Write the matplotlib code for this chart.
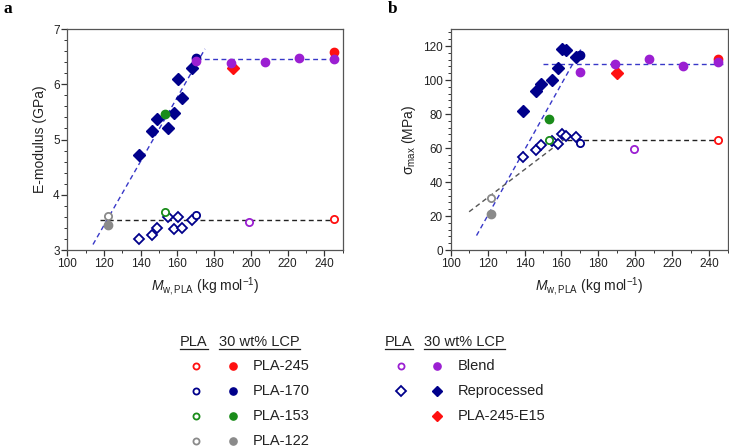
import matplotlib
matplotlib.use("Agg")
import matplotlib.pyplot as plt
from matplotlib.lines import Line2D
from matplotlib.ticker import MultipleLocator

plt.rcParams['font.family'] = ['Liberation Sans', 'DejaVu Sans']
plt.rcParams['mathtext.fontset'] = 'custom'
plt.rcParams['mathtext.rm'] = 'Liberation Sans'
plt.rcParams['mathtext.it'] = 'Liberation Sans:italic'
plt.rcParams['mathtext.bf'] = 'Liberation Sans:bold'

# ---------------- data ----------------
# Panel a: E-modulus (GPa)
pla245_x = [245]
pla245_open_a = [3.57]
pla245_fill_a = [6.58]
pla170_x = [170]
pla170_open_a = [3.64]
pla170_fill_a = [6.48]
pla153_x = [153]
pla153_open_a = [3.68]
pla153_fill_a = [5.46]
pla122_x = [122]
pla122_open_a = [3.61]
pla122_fill_a = [3.46]
blend_open_x = [199]
blend_open_a = [3.50]
blend_fill_x = [170, 189, 207.5, 226, 245]
blend_fill_a = [6.43, 6.38, 6.40, 6.48, 6.46]
repro_x = [139, 146, 149, 155, 158, 160.5, 162.5, 168]
repro_open_a = [3.20, 3.28, 3.39, 3.59, 3.38, 3.59, 3.39, 3.55]
repro_fill_a = [4.72, 5.15, 5.37, 5.20, 5.48, 6.10, 5.75, 6.30]
e15_x = [190]
e15_a = [6.29]

# Panel b: sigma_max (MPa)
pla245_open_b = [64.5]
pla245_fill_b = [112.1]
pla170_open_b = [63.0]
pla170_fill_b = [115.0]
pla153_open_b = [64.6]
pla153_fill_b = [77.3]
pla122_open_b = [30.6]
pla122_fill_b = [21.3]
blend_open_b = [59.2]
blend_fill_b = [105.0, 109.2, 112.3, 108.0, 110.8]
repro_open_b = [55.0, 59.0, 61.5, 64.0, 62.5, 68.0, 67.0, 66.4]
repro_fill_b = [82.0, 93.4, 97.4, 99.8, 107.2, 118.5, 117.5, 113.5]
e15_b = [104.3]

# Guide (fit) lines: endpoints
fit_a_rise_x, fit_a_rise_y = [114, 175], [3.10, 6.64]
fit_a_fill_x, fit_a_fill_y = [170, 247], [6.45, 6.45]
fit_a_open_x, fit_a_open_y = [118, 247], [3.55, 3.55]
fit_b_rise_x, fit_b_rise_y = [114, 171], [8.5, 119.0]
fit_b_fill_x, fit_b_fill_y = [150, 248], [109.4, 109.4]
fit_b_orise_x, fit_b_orise_y = [110, 165], [22.5, 68.0]
fit_b_open_x, fit_b_open_y = [163, 247], [64.5, 64.5]

legend_left = ['PLA-245', 'PLA-170', 'PLA-153', 'PLA-122']
legend_right = ['Blend', 'Reprocessed', 'PLA-245-E15']

RED = '#ff1010'
NAVY = '#00008b'
GREEN = '#1a8c1a'
GREY = '#8a8a8a'
PURPLE = '#9b1fd2'
BLUE_LINE = '#3838c8'
BLACK_LINE = '#222222'

fig = plt.figure(figsize=(7.29, 4.47), dpi=100)
axa = fig.add_axes([0.0923, 0.4407, 0.3778, 0.4944])
axb = fig.add_axes([0.6182, 0.4407, 0.3800, 0.4944])

ms_c = 5.2
ms_d = 6.0
mew = 1.3


def draw(ax, vals):
    (p245o, p245f, p170o, p170f, p153o, p153f, p122o, p122f,
     blo, blf, reo, ref, e15, lines) = vals
    for (lx, ly, col) in lines:
        ax.plot(lx, ly, ls=(0, (3.5, 2.5)), color=col, lw=1.0, zorder=1)
    # open markers
    ax.plot(repro_x, reo, 'D', mfc='white', mec=NAVY, ms=ms_d - 0.8, mew=mew, ls='none', zorder=3)
    ax.plot(pla122_x, p122o, 'o', mfc='white', mec=GREY, ms=ms_c, mew=mew, zorder=3)
    ax.plot(pla153_x, p153o, 'o', mfc='white', mec=GREEN, ms=ms_c, mew=mew, zorder=3)
    ax.plot(pla170_x, p170o, 'o', mfc='white', mec=NAVY, ms=ms_c, mew=mew, zorder=3)
    ax.plot(blend_open_x, blo, 'o', mfc='white', mec=PURPLE, ms=ms_c, mew=mew, zorder=3)
    ax.plot(pla245_x, p245o, 'o', mfc='white', mec=RED, ms=ms_c, mew=mew, zorder=3)
    # filled markers
    ax.plot(repro_x, ref, 'D', color=NAVY, ms=ms_d, ls='none', zorder=3)
    ax.plot(pla122_x, p122f, 'o', color=GREY, ms=ms_c + 0.8, zorder=3)
    ax.plot(pla153_x, p153f, 'o', color=GREEN, ms=ms_c + 0.8, zorder=3)
    ax.plot(pla170_x, p170f, 'o', color=NAVY, ms=ms_c + 0.8, zorder=3)
    ax.plot(pla245_x, p245f, 'o', color=RED, ms=ms_c + 0.8, zorder=3)
    ax.plot(blend_fill_x, blf, 'o', color=PURPLE, ms=ms_c + 0.8, ls='none', zorder=4)
    ax.plot(e15_x, e15, 'D', color=RED, ms=ms_d, zorder=3)


draw(axa, (pla245_open_a, pla245_fill_a, pla170_open_a, pla170_fill_a,
           pla153_open_a, pla153_fill_a, pla122_open_a, pla122_fill_a,
           blend_open_a, blend_fill_a, repro_open_a, repro_fill_a, e15_a,
           [(fit_a_rise_x, fit_a_rise_y, BLUE_LINE),
            (fit_a_fill_x, fit_a_fill_y, BLUE_LINE),
            (fit_a_open_x, fit_a_open_y, BLACK_LINE)]))
draw(axb, (pla245_open_b, pla245_fill_b, pla170_open_b, pla170_fill_b,
           pla153_open_b, pla153_fill_b, pla122_open_b, pla122_fill_b,
           blend_open_b, blend_fill_b, repro_open_b, repro_fill_b, e15_b,
           [(fit_b_rise_x, fit_b_rise_y, BLUE_LINE),
            (fit_b_fill_x, fit_b_fill_y, BLUE_LINE),
            (fit_b_orise_x, fit_b_orise_y, '#555555'),
            (fit_b_open_x, fit_b_open_y, BLACK_LINE)]))

axa.set_xlim(100, 250)
axa.set_ylim(3, 7)
axa.yaxis.set_major_locator(MultipleLocator(1))
axa.yaxis.set_minor_locator(MultipleLocator(0.2))
axb.set_xlim(100, 250)
axb.set_ylim(0, 130)
axb.yaxis.set_major_locator(MultipleLocator(20))
axb.yaxis.set_minor_locator(MultipleLocator(4))

for ax in (axa, axb):
    ax.xaxis.set_major_locator(MultipleLocator(20))
    ax.xaxis.set_minor_locator(MultipleLocator(10))
    ax.tick_params(which='major', direction='out', length=4, width=0.9,
                   labelsize=8.5, colors='#333333', labelcolor='#222222', pad=1.5)
    ax.tick_params(which='minor', direction='out', length=2, width=0.7, colors='#333333')
    for s in ax.spines.values():
        s.set_color('#555555')
        s.set_linewidth(0.9)
    ax.set_xlabel(r'$M_{\mathrm{w,PLA}}$ (kg mol$^{-1}$)', fontsize=10, color='#222222', labelpad=4)

axa.set_ylabel('E-modulus (GPa)', fontsize=10, color='#222222', labelpad=4)
axb.set_ylabel(r'σ$_{\mathrm{max}}$ (MPa)', fontsize=10, color='#222222', labelpad=4)

fig.text(3 / 729, 1 - 9 / 447, 'a', fontsize=12.5, fontweight='bold',
         family='Liberation Serif', va='center', ha='left')
fig.text(388 / 729, 1 - 9 / 447, 'b', fontsize=12.5, fontweight='bold',
         family='Liberation Serif', va='center', ha='left')

# ---------------- legend ----------------
W, H = 729.0, 447.0


def fx(px):
    return px / W


def fy(py):
    return 1 - py / H


lfs = 10.5
header_y = 341.7
row_y = [365.7, 390.7, 415.7, 440.7]


def header(x_pla, x_lcp):
    t1 = fig.text(fx(x_pla), fy(header_y), 'PLA', fontsize=lfs, va='center', ha='left', color='#222222')
    t2 = fig.text(fx(x_lcp), fy(header_y), '30 wt% LCP', fontsize=lfs, va='center', ha='left', color='#222222')
    return t1, t2


headers = [header(180, 219.3), header(385, 424.3)]


def marker(px, py, m, open_, col, ms):
    if open_:
        ln = Line2D([fx(px)], [fy(py)], marker=m, mfc='white', mec=col, ms=ms, mew=mew,
                    ls='none', transform=fig.transFigure)
    else:
        ln = Line2D([fx(px)], [fy(py)], marker=m, color=col, ms=ms, ls='none',
                    transform=fig.transFigure)
    fig.add_artist(ln)


left_cols = [RED, NAVY, GREEN, GREY]
for i, (lab, col) in enumerate(zip(legend_left, left_cols)):
    marker(196, row_y[i], 'o', True, col, ms_c - 0.8)
    marker(232.7, row_y[i], 'o', False, col, ms_c)
    fig.text(fx(252.7), fy(row_y[i]), lab, fontsize=lfs, va='center', ha='left', color='#222222')

right_specs = [('o', PURPLE, True), ('D', NAVY, True), ('D', RED, False)]
for i, (lab, (m, col, has_open)) in enumerate(zip(legend_right, right_specs)):
    if has_open:
        marker(400.7, row_y[i], m, True, col, (ms_c - 0.8) if m == 'o' else ms_d - 1.3)
    marker(436.7, row_y[i], m, False, col, ms_c if m == 'o' else ms_d - 0.6)
    fig.text(fx(457.3), fy(row_y[i]), lab, fontsize=lfs, va='center', ha='left', color='#222222')

# underline headers
fig.canvas.draw()
r = fig.canvas.get_renderer()
for pair in headers:
    for t in pair:
        bb = t.get_window_extent(renderer=r)
        yline = bb.y0 - 0.5
        fig.add_artist(Line2D([bb.x0 / W, bb.x1 / W], [yline / H, yline / H],
                              color='#222222', lw=0.9, transform=fig.transFigure))

fig.savefig('out.png', dpi=100)
